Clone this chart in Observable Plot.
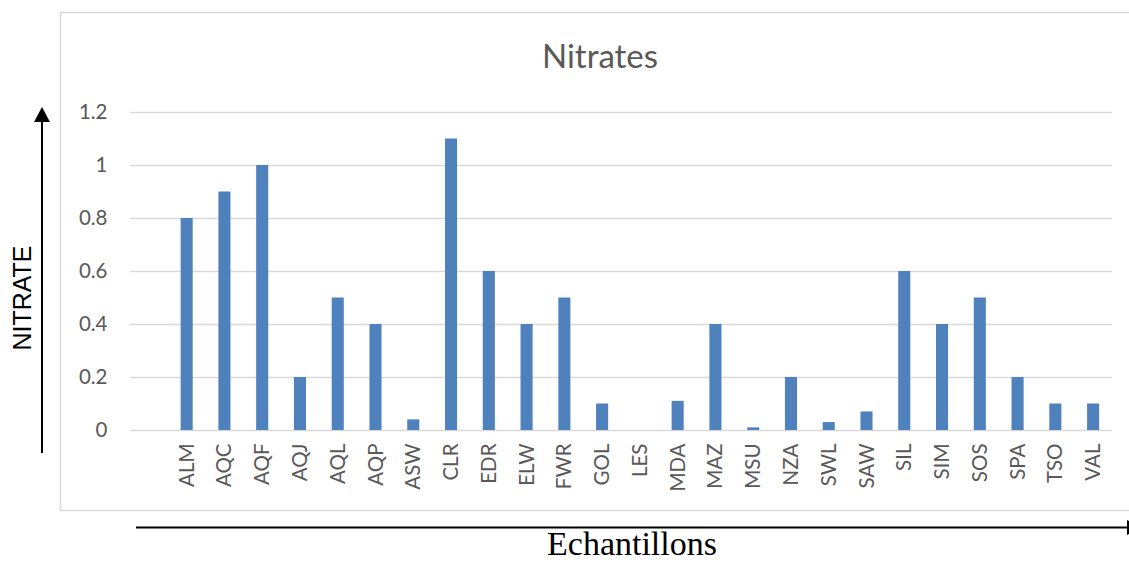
<!DOCTYPE html>
<html>
<head>
<meta charset="utf-8">
<script src="https://cdn.jsdelivr.net/npm/d3@7"></script>
<script src="https://cdn.jsdelivr.net/npm/@observablehq/plot@0.6"></script>
<style>
  html, body { margin: 0; padding: 0; background: #fff; }
  #chart svg { display: block; }
</style>
</head>
<body>
<div id="chart"></div>
<script>
// Sampling sites and their nitrate levels
const sites = ["ALM", "AQC", "AQF", "AQJ", "AQL", "AQP", "ASW", "CLR", "EDR", "ELW", "FWR", "GOL", "LES",
               "MDA", "MAZ", "MSU", "NZA", "SWL", "SAW", "SIL", "SIM", "SOS", "SPA", "TSO", "VAL"];
const nitrate = [0.8, 0.9, 1.0, 0.2, 0.5, 0.4, 0.04, 1.1, 0.6, 0.4, 0.5, 0.1, 0,
                 0.11, 0.4, 0.01, 0.2, 0.03, 0.07, 0.6, 0.4, 0.5, 0.2, 0.1, 0.1];
const yTicks = [0, 0.2, 0.4, 0.6, 0.8, 1, 1.2];
const titleText = "Nitrates";
const yLabel = "NITRATE";
const xLabel = "Echantillons";

const rows = sites.map((site, i) => ({site, value: nitrate[i]}));

const W = 1129, H = 563;
const grey = "#595959";

const chart = Plot.plot({
  width: W,
  height: H,
  marginLeft: 130,
  marginRight: 17,
  marginTop: 112,
  marginBottom: 133,
  style: {fontFamily: "Lato, sans-serif", color: grey, background: "transparent", overflow: "visible"},
  x: {
    // an empty leading slot keeps the first sample one step off the axis
    domain: ["", ...sites],
    padding: 0,
    round: false,
    label: null
  },
  y: {domain: [0, 1.2], label: null},
  marks: [
    Plot.gridY(yTicks, {stroke: "#d9d9d9", strokeOpacity: 1, strokeWidth: 1.5}),
    Plot.barY(rows, {x: "site", y: "value", fill: "#4f81bd", insetLeft: 12.85, insetRight: 12.85}),
    Plot.axisY(yTicks, {tickSize: 0, tickPadding: 23, fontSize: 20.5, fill: grey, label: null,
                        tickFormat: d => String(d)}),
    Plot.axisX(sites, {tickSize: 0, tickPadding: 13, tickRotate: -90, fontSize: 20.5, fill: grey, label: null})
  ]
});

const svg = d3.select(chart);

// outer chart border
svg.insert("rect", ":first-child")
  .attr("x", 60.5).attr("y", 12.5)
  .attr("width", 1075).attr("height", 498)
  .attr("fill", "#fff").attr("stroke", "#d9d9d9").attr("stroke-width", 1.5);

// title
svg.append("text")
  .attr("x", 600).attr("y", 68)
  .attr("text-anchor", "middle")
  .attr("font-family", "Lato, sans-serif").attr("font-size", 33)
  .attr("fill", grey)
  .text(titleText);

// vertical arrow with its label
svg.append("line")
  .attr("x1", 42).attr("x2", 42).attr("y1", 453).attr("y2", 118)
  .attr("stroke", "#000").attr("stroke-width", 2);
svg.append("path")
  .attr("d", "M42,107 L34,122 L50,122 Z")
  .attr("fill", "#000");
svg.append("text")
  .attr("transform", "translate(31,298) rotate(-90)")
  .attr("text-anchor", "middle")
  .attr("font-family", "'Liberation Sans', Arial, sans-serif").attr("font-size", 25)
  .attr("fill", "#000")
  .text(yLabel);

// horizontal arrow with its label
svg.append("line")
  .attr("x1", 136).attr("x2", 1128).attr("y1", 527.5).attr("y2", 527.5)
  .attr("stroke", "#000").attr("stroke-width", 2);
svg.append("path")
  .attr("d", "M1127,520 L1127,535 L1142,527.5 Z")
  .attr("fill", "#000");
svg.append("text")
  .attr("x", 632).attr("y", 555)
  .attr("text-anchor", "middle")
  .attr("font-family", "'Liberation Serif', 'Times New Roman', serif").attr("font-size", 34)
  .attr("fill", "#000")
  .text(xLabel);

document.getElementById("chart").appendChild(chart);
</script>
</body>
</html>
